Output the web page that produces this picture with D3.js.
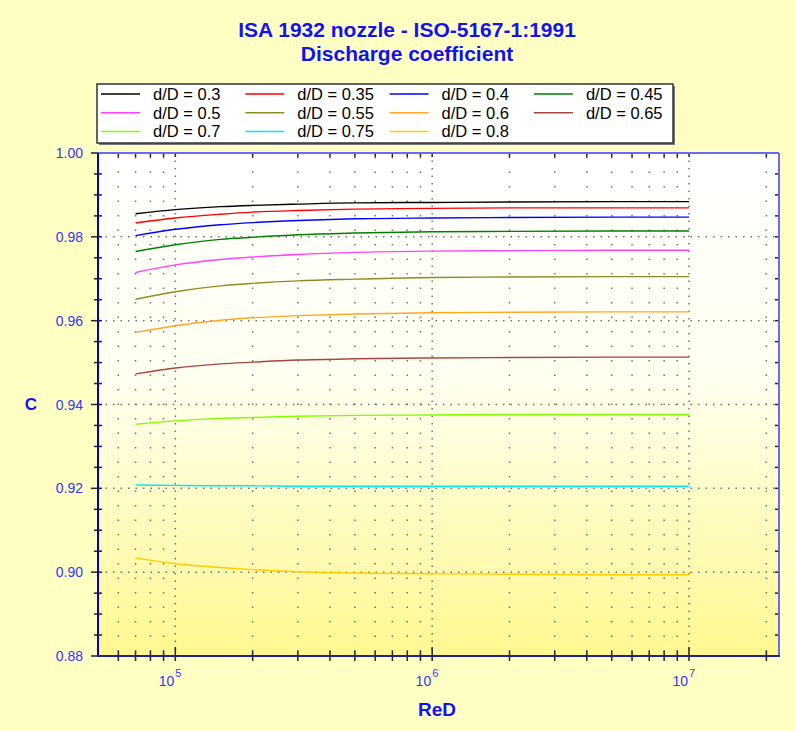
<!DOCTYPE html>
<html>

<head>
    <title>ISA 1932 nozzle</title>
    <script src="https://cdn.jsdelivr.net/npm/d3@7"></script>
    <style>
        body { margin: 0; background: #ffffc4; }
        text { font-family: "Liberation Sans", Arial, sans-serif; }
    </style>
</head>

<body>
    <svg width="795" height="731" id="mainsvg"></svg>
    <script>
        // Reynolds numbers where the curves were read
        const reD = [7e4, 1e5, 1.5e5, 2e5, 3e5, 5e5, 1e6, 2e6, 5e6, 1e7];
        const betas = ['0.3', '0.35', '0.4', '0.45', '0.5', '0.55', '0.6', '0.65', '0.7', '0.75', '0.8'];
        const colors = ['#000000', '#ff0000', '#0000ff', '#008000', '#ff40ff', '#8c8c26',
            '#ffa628', '#a84444', '#80ff00', '#00e8ff', '#ffcc00'];

        const c030 = [0.9855, 0.9865, 0.9872, 0.9875, 0.9878, 0.9881, 0.9882, 0.9883, 0.9884, 0.9884];
        const c035 = [0.9833, 0.9845, 0.9854, 0.9859, 0.9863, 0.9866, 0.9868, 0.9869, 0.9869, 0.9869];
        const c040 = [0.9803, 0.9818, 0.9829, 0.9834, 0.9839, 0.9843, 0.9845, 0.9846, 0.9847, 0.9847];
        const c045 = [0.9765, 0.9781, 0.9794, 0.9799, 0.9805, 0.9809, 0.9812, 0.9813, 0.9814, 0.9814];
        const c050 = [0.9715, 0.9733, 0.9746, 0.9752, 0.9758, 0.9763, 0.9766, 0.9767, 0.9768, 0.9768];
        const c055 = [0.9651, 0.9669, 0.9683, 0.9689, 0.9695, 0.9699, 0.9703, 0.9704, 0.9705, 0.9705];
        const c060 = [0.9572, 0.9588, 0.9601, 0.9607, 0.9612, 0.9616, 0.9619, 0.9620, 0.9621, 0.9621];
        const c065 = [0.9473, 0.9487, 0.9497, 0.9501, 0.9506, 0.9509, 0.9511, 0.9512, 0.9513, 0.9513];
        const c070 = [0.9353, 0.9361, 0.9367, 0.9369, 0.9372, 0.9374, 0.9375, 0.9376, 0.9376, 0.9376];
        const c075 = [0.9208, 0.9207, 0.9206, 0.9206, 0.9205, 0.9205, 0.9205, 0.9205, 0.9205, 0.9205];
        const c080 = [0.9034, 0.9020, 0.9011, 0.9006, 0.9001, 0.8998, 0.8996, 0.8995, 0.8994, 0.8994];
        const series = [c030, c035, c040, c045, c050, c055, c060, c065, c070, c075, c080];

        const yTicks = [0.88, 0.90, 0.92, 0.94, 0.96, 0.98, 1.00];
        const xMajor = [1e5, 1e6, 1e7];
        const xMinor = [6e4, 7e4, 8e4, 9e4, 2e5, 3e5, 4e5, 5e5, 6e5, 7e5, 8e5, 9e5,
            2e6, 3e6, 4e6, 5e6, 6e6, 7e6, 8e6, 9e6, 2e7];

        const svg = d3.select('svg');
        const pLeft = 98, pRight = 779, pTop = 153, pBottom = 656;

        const x = d3.scaleLog().domain([5e4, 2.24e7]).range([pLeft, pRight]);
        const y = d3.scaleLinear().domain([0.88, 1.00]).range([pBottom, pTop]);

        const defs = svg.append('defs');
        const grad = defs.append('linearGradient').attr('id', 'bg')
            .attr('x1', 0).attr('y1', 0).attr('x2', 0).attr('y2', 1);
        grad.append('stop').attr('offset', '0%').attr('stop-color', '#ffffff');
        grad.append('stop').attr('offset', '45%').attr('stop-color', '#fffff0');
        grad.append('stop').attr('offset', '100%').attr('stop-color', '#fff890');

        svg.append('rect').attr('width', 795).attr('height', 731).attr('fill', '#ffffc4');
        svg.append('rect').attr('x', pLeft).attr('y', pTop)
            .attr('width', pRight - pLeft).attr('height', pBottom - pTop)
            .attr('fill', 'url(#bg)');

        // titles
        svg.append('text').attr('x', 407).attr('y', 37).attr('text-anchor', 'middle')
            .attr('font-size', 21).attr('font-weight', 'bold').attr('fill', '#1212f0')
            .text('ISA 1932 nozzle - ISO-5167-1:1991');
        svg.append('text').attr('x', 407).attr('y', 61).attr('text-anchor', 'middle')
            .attr('font-size', 21).attr('font-weight', 'bold').attr('fill', '#1212f0')
            .text('Discharge coefficient');

        // grid
        const grid = svg.append('g').attr('stroke', '#707070').attr('stroke-width', 1.5);
        grid.selectAll('.gminor').data(xMinor.filter(d => x(d) < pRight - 2)).join('line')
            .attr('x1', d => x(d)).attr('x2', d => x(d)).attr('y1', pTop + 4).attr('y2', pBottom)
            .attr('stroke-dasharray', '1.5,13');
        grid.selectAll('.gmajx').data(xMajor).join('line')
            .attr('x1', d => x(d)).attr('x2', d => x(d)).attr('y1', pTop).attr('y2', pBottom)
            .attr('stroke-dasharray', '1.5,6');
        grid.selectAll('.gmajy').data(yTicks.slice(1, -1)).join('line')
            .attr('x1', pLeft).attr('x2', pRight).attr('y1', d => y(d)).attr('y2', d => y(d))
            .attr('stroke-dasharray', '1.5,6');

        // curves
        const line = d3.line().x(d => x(d[0])).y(d => y(d[1])).curve(d3.curveMonotoneX);
        svg.append('g').selectAll('path').data(series).join('path')
            .attr('d', s => line(reD.map((r, i) => [r, s[i]])))
            .attr('fill', 'none')
            .attr('stroke', (s, i) => colors[i])
            .attr('stroke-width', 1.4);

        // axes
        const yMinor = d3.range(0.88, 1.0001, 0.005);
        const tickG = svg.append('g').attr('stroke', '#222').attr('stroke-width', 1.5);
        tickG.selectAll('.yl').data(yMinor).join('line')
            .attr('x1', d => Math.abs(d * 50 - Math.round(d * 50)) < 1e-6 ? pLeft - 7 : pLeft - 4)
            .attr('x2', pLeft + 4).attr('y1', d => y(d)).attr('y2', d => y(d));
        tickG.selectAll('.yr').data(yMinor).join('line')
            .attr('x1', pRight - 4).attr('x2', pRight).attr('y1', d => y(d)).attr('y2', d => y(d));
        tickG.selectAll('.xb').data(xMinor.concat(xMajor)).join('line')
            .attr('x1', d => x(d)).attr('x2', d => x(d))
            .attr('y1', d => xMajor.includes(d) ? pBottom - 9 : pBottom - 5).attr('y2', pBottom + 5);
        tickG.selectAll('.xt').data(xMinor.concat(xMajor)).join('line')
            .attr('x1', d => x(d)).attr('x2', d => x(d))
            .attr('y1', pTop).attr('y2', pTop + 4);

        svg.append('line').attr('x1', pLeft).attr('x2', pRight).attr('y1', pTop).attr('y2', pTop)
            .attr('stroke', '#6a6af0').attr('stroke-width', 2);
        svg.append('line').attr('x1', pRight).attr('x2', pRight).attr('y1', pTop).attr('y2', pBottom)
            .attr('stroke', '#6a6af0').attr('stroke-width', 2);
        svg.append('line').attr('x1', pLeft).attr('x2', pLeft).attr('y1', pTop).attr('y2', pBottom)
            .attr('stroke', '#0000cc').attr('stroke-width', 2);
        svg.append('line').attr('x1', pLeft - 1).attr('x2', pRight + 1).attr('y1', pBottom).attr('y2', pBottom)
            .attr('stroke', '#22228a').attr('stroke-width', 2);

        // tick labels
        svg.append('g').selectAll('text').data(yTicks).join('text')
            .attr('x', 83).attr('y', d => y(d)).attr('dy', '0.36em')
            .attr('text-anchor', 'end').attr('font-size', 14).attr('fill', '#3434ff')
            .text(d => d.toFixed(2));
        svg.append('g').selectAll('text').data(xMajor).join('text')
            .attr('x', d => x(d) - 1).attr('y', 686)
            .attr('font-size', 14).attr('fill', '#3434ff').attr('text-anchor', 'end')
            .text('10');
        svg.append('g').selectAll('text').data(xMajor).join('text')
            .attr('x', d => x(d)).attr('y', 677)
            .attr('font-size', 11).attr('fill', '#3434ff')
            .text(d => Math.round(Math.log10(d)));

        // axis titles
        svg.append('text').attr('x', 437).attr('y', 716).attr('text-anchor', 'middle')
            .attr('font-size', 19).attr('font-weight', 'bold').attr('fill', '#1212f0').text('ReD');
        svg.append('text').attr('x', 31).attr('y', 410).attr('text-anchor', 'middle')
            .attr('font-size', 17).attr('font-weight', 'bold').attr('fill', '#1212f0').text('C');

        // legend
        const lg = svg.append('g');
        lg.append('rect').attr('x', 99).attr('y', 86).attr('width', 576).attr('height', 59).attr('fill', '#777');
        lg.append('rect').attr('x', 97).attr('y', 84).attr('width', 576).attr('height', 59)
            .attr('fill', '#ffffff').attr('stroke', '#333').attr('stroke-width', 1.5);
        const items = lg.selectAll('g.item').data(betas).join('g')
            .attr('transform', (d, i) => `translate(${101 + (i % 4) * 144.3},${94 + Math.floor(i / 4) * 18.7})`);
        items.append('line').attr('x1', 0).attr('x2', 39).attr('y1', 0).attr('y2', 0)
            .attr('stroke', (d, i) => colors[i]).attr('stroke-width', 1.5);
        items.append('text').attr('x', 52).attr('y', 0).attr('dy', '0.36em')
            .attr('font-size', 16.5).attr('fill', '#000').text(d => `d/D = ${d}`);
    </script>
</body>

</html>
